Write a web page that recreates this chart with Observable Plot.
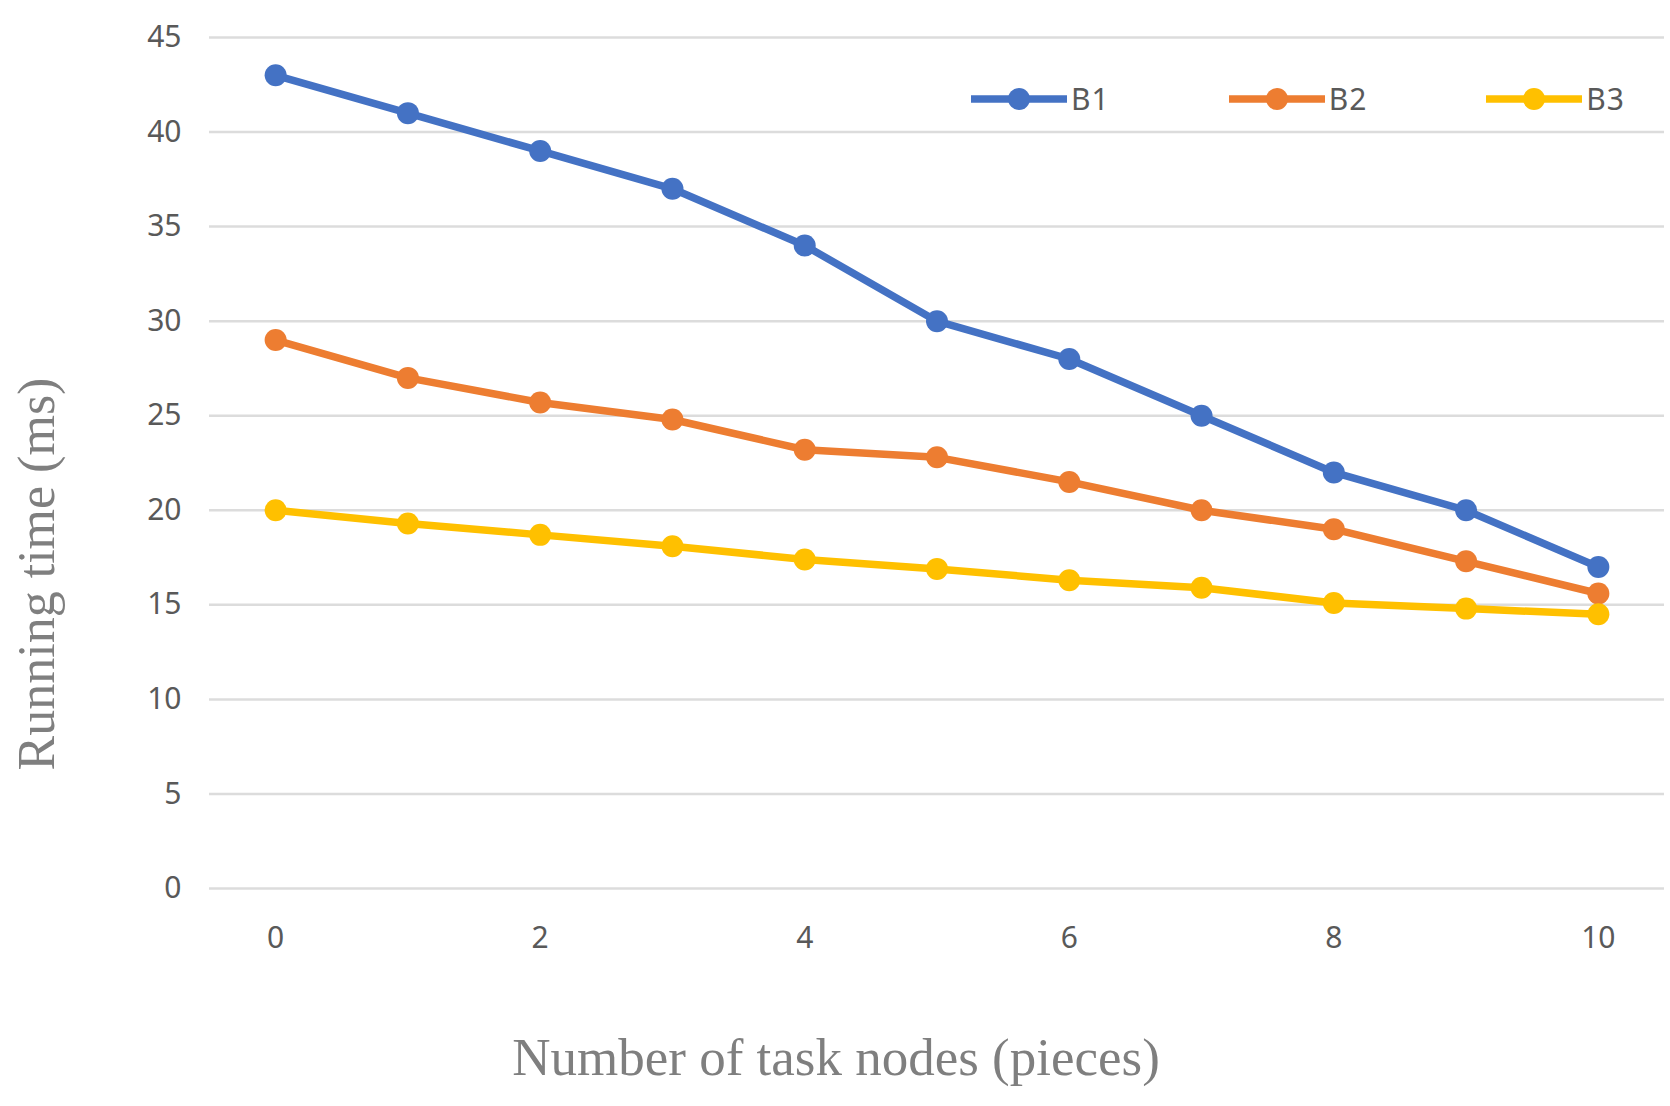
<!DOCTYPE html>
<html>
<head>
<meta charset="utf-8">
<script src="https://cdn.jsdelivr.net/npm/d3@7"></script>
<script src="https://cdn.jsdelivr.net/npm/@observablehq/plot@0.6"></script>
<style>
  html, body { margin: 0; padding: 0; background: #fff; }
  #wrap { position: relative; width: 1670px; height: 1106px; }
  #legend { position: absolute; top: 78px; left: 971px; display: flex; align-items: center;
            font-family: "Noto Sans", sans-serif; font-size: 30px; color: #595959; }
  .item { display: flex; align-items: center; margin-right: 119px; }
  .item span { margin-left: 4px; letter-spacing: 1px; }
</style>
</head>
<body>
<div id="wrap"><div id="legend"></div></div>
<script>
const nodes = [0, 1, 2, 3, 4, 5, 6, 7, 8, 9, 10];
const b1 = [43, 41, 39, 37, 34, 30, 28, 25, 22, 20, 17];
const b2 = [29, 27, 25.7, 24.8, 23.2, 22.8, 21.5, 20, 19, 17.3, 15.6];
const b3 = [20, 19.3, 18.7, 18.1, 17.4, 16.9, 16.3, 15.9, 15.1, 14.8, 14.5];
const seriesNames = ["B1", "B2", "B3"];
const seriesColors = ["#4472C4", "#ED7D31", "#FFC000"];
const yTicks = [0, 5, 10, 15, 20, 25, 30, 35, 40, 45];
const xTicks = [0, 2, 4, 6, 8, 10];
const xTitle = "Number of task nodes (pieces)";
const yTitle = "Running time (ms)";

const seriesValues = [b1, b2, b3];
const data = [];
seriesNames.forEach((s, i) => nodes.forEach((n, j) => data.push({series: s, x: n, y: seriesValues[i][j]})));

const chart = Plot.plot({
  width: 1670,
  height: 1106,
  marginLeft: 209,
  marginRight: 6,
  marginTop: 37,
  marginBottom: 218,
  style: {background: "#fff"},
  x: {domain: [-0.5, 10.5]},
  y: {domain: [0, 45]},
  color: {type: "ordinal", domain: seriesNames, range: seriesColors},
  marks: [
    Plot.ruleY(yTicks, {stroke: "#dcdcdc", strokeWidth: 2.5}),
    Plot.axisY(yTicks, {tickSize: 0, tickPadding: 28, fontSize: 30, fontFamily: "Noto Sans", fill: "#595959", label: null}),
    Plot.axisX(xTicks, {tickSize: 0, tickPadding: 38, fontSize: 30, fontFamily: "Noto Sans", fill: "#595959", label: null, tickFormat: d => String(d)}),
    Plot.line(data, {x: "x", y: "y", z: "series", stroke: "series", strokeWidth: 7.5, strokeLinejoin: "round"}),
    Plot.dot(data, {x: "x", y: "y", fill: "series", r: 11}),
    Plot.text([xTitle], {frameAnchor: "bottom", dy: 170, dx: -101, fontSize: 53, fontFamily: "Liberation Serif", fill: "#7f7f7f", textAnchor: "middle", lineAnchor: "middle"}),
    Plot.text([yTitle], {frameAnchor: "left", rotate: -90, dx: -172, dy: 111, fontSize: 52, fontFamily: "Liberation Serif", fill: "#7f7f7f", textAnchor: "middle", lineAnchor: "middle"})
  ]
});
document.getElementById("wrap").prepend(chart);

const legend = document.getElementById("legend");
seriesNames.forEach((s, i) => {
  const item = document.createElement("div");
  item.className = "item";
  item.innerHTML = `<svg width="96" height="36"><line x1="0" x2="96" y1="18" y2="18" stroke="${seriesColors[i]}" stroke-width="7.5"/><circle cx="48" cy="18" r="11" fill="${seriesColors[i]}"/></svg><span>${s}</span>`;
  legend.appendChild(item);
});
</script>
</body>
</html>
